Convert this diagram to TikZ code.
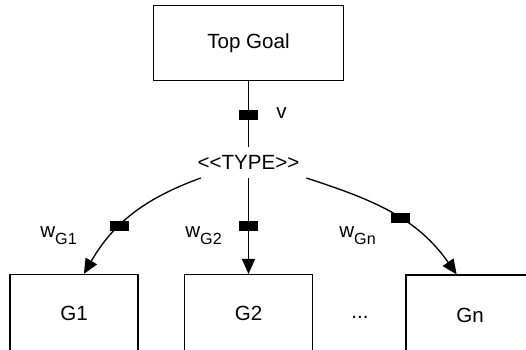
\documentclass[tikz,border=0pt]{standalone}
\usepackage{fontspec}
\newfontfamily\diagfont{Liberation Sans}
\usetikzlibrary{arrows.meta}
\tikzset{
  goalbox/.style={draw, line width=0.6pt, minimum width=2.56cm, minimum height=1.5cm, inner sep=0pt},
  weightmark/.style={fill=black, minimum width=0.38cm, minimum height=0.2cm, inner sep=0pt, outer sep=0pt},
  link/.style={line width=0.75pt},
  arrowlink/.style={link, -{Triangle[length=0.3cm,width=0.26cm]}},
  weightlabel/.style={anchor=base west, inner sep=0pt}
}
\newcommand{\wsub}[1]{w\raisebox{-4.5pt}{\fontsize{9.2}{10}\selectfont #1}}

\begin{document}
\begin{tikzpicture}[x=0.02cm, y=-0.02cm, font=\diagfont\fontsize{11.7}{14}\selectfont]
      \useasboundingbox (0,0) rectangle (526,349);
      \clip (0,0) rectangle (526,349);

      \node[goalbox, minimum width=3.8cm] (top) at (248.5,43) {Top Goal};
      \node[inner sep=4.6pt] (type) at (248.5,162.5) {<<TYPE>>};

      \foreach \name/\x/\y/\h/\lab in {g1/74/313.5/1.56/G1, g2/248.5/313.5/1.56/G2, gn/470/315.5/1.62/Gn} {
        \node[goalbox, minimum height=\h cm] (\name) at (\x,\y) {\lab};
      }
      \node[anchor=base, inner sep=0pt] (dots) at (360,318) {...};

      \draw[link] (top) -- node[weightmark, pos=0.51] (mv) {} (type);
      \draw[arrowlink] (type.198) to[out=200, in=60] node[weightmark, pos=0.62] (m1) {} (g1.76);
      \draw[arrowlink] (type) -- node[weightmark, pos=0.5] (m2) {} (g2);
      \draw[arrowlink] (type.-15) to[out=-18, in=125] node[weightmark, pos=0.56] (mn) {} (gn.108);

      \node[weightlabel] (v) at (276,118) {v};
      \node[weightlabel] (wg1) at (40,237) {\wsub{G1}};
      \node[weightlabel] (wg2) at (185,237) {\wsub{G2}};
      \node[weightlabel] (wgn) at (339,237) {\wsub{Gn}};
    \end{tikzpicture}
\end{document}
